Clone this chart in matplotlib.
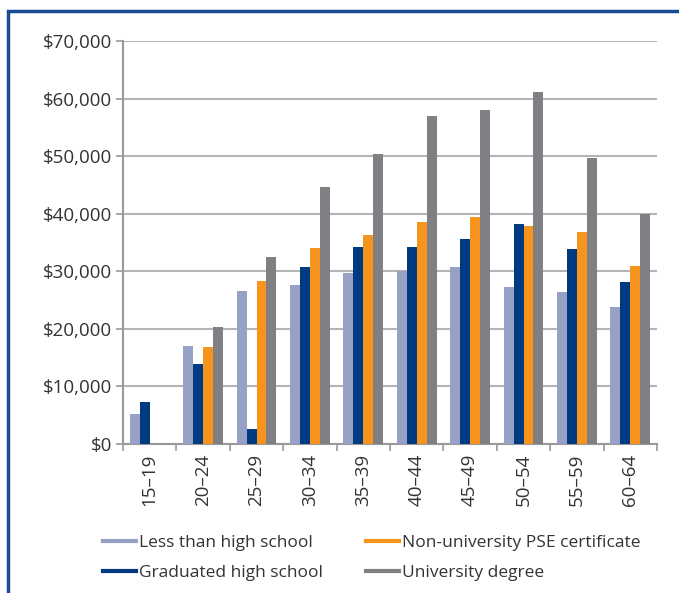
import matplotlib
matplotlib.use("Agg")
import matplotlib.pyplot as plt
from matplotlib.patches import Rectangle
from matplotlib.lines import Line2D
import numpy as np

age_groups = ["15–19", "20–24", "25–29", "30–34", "35–39", "40–44", "45–49", "50–54", "55–59", "60–64"]
less_than_hs = [5200, 17100, 26600, 27600, 29700, 30000, 30700, 27300, 26400, 23800]
graduated_hs = [7300, 13900, 2600, 30700, 34200, 34200, 35600, 38200, 33900, 28200]
non_univ_pse = [0, 16800, 28300, 34000, 36300, 38600, 39400, 37900, 36800, 30900]
univ_degree = [0, 20300, 32500, 44600, 50400, 57000, 58000, 61100, 49700, 40000]

series = [
    ("Less than high school", less_than_hs, "#97a0c5"),
    ("Graduated high school", graduated_hs, "#003a80"),
    ("Non-university PSE certificate", non_univ_pse, "#f7941d"),
    ("University degree", univ_degree, "#808084"),
]

plt.rcParams['font.family'] = ['Open Sans', 'DejaVu Sans']
txt_col = "#333333"

fig = plt.figure(figsize=(6.79, 5.93), dpi=100)
ax = fig.add_axes([123/679, 1-444/593, (657-123)/679, (444-41)/593])

x = np.arange(len(age_groups))
w = 0.187
for i, (name, vals, col) in enumerate(series):
    ax.bar(x + (i - 1.5) * w, vals, width=w, color=col, zorder=3, label=name)

ax.set_xlim(-0.5, len(age_groups) - 0.5)
ax.set_ylim(0, 70000)
ax.set_yticks(np.arange(0, 70001, 10000))
ax.set_yticklabels([f"${v:,.0f}" for v in np.arange(0, 70001, 10000)])
ax.yaxis.grid(True, color="#b4b4b4", linewidth=1.5, zorder=0)
ax.set_xticks(x)
ax.set_xticklabels(age_groups, rotation=90)
ax.set_xticks(np.arange(-0.5, len(age_groups), 1), minor=True)
ax.tick_params(axis='x', which='major', length=0, pad=7, labelsize=13.5, labelcolor=txt_col)
ax.tick_params(axis='x', which='minor', length=5, color="#999999", width=1.2)
ax.tick_params(axis='y', length=5, color="#999999", width=1.2, pad=3, labelsize=13.5, labelcolor=txt_col)
for s in ["top", "right"]:
    ax.spines[s].set_visible(False)
ax.spines["left"].set_color("#999999")
ax.spines["left"].set_linewidth(1.5)
ax.spines["bottom"].set_color("#999999")
ax.spines["bottom"].set_linewidth(1.5)

handles = [Line2D([0], [0], color=c, linewidth=3) for _, _, c in series]
labels = [n for n, _, _ in series]
leg_kw = dict(loc="center left", frameon=False, fontsize=12.5, handlelength=1.9,
              handletextpad=0.15, labelspacing=0.75, labelcolor=txt_col, borderpad=0, borderaxespad=0)
leg1 = fig.legend(handles[:2], labels[:2], bbox_to_anchor=(103/679, 1-558/593), **leg_kw)
leg2 = fig.legend(handles[2:], labels[2:], bbox_to_anchor=(366/679, 1-558/593), **leg_kw)

fig.patches.append(Rectangle((8/679, -0.1), 1.2, 1 - 11/593 + 0.1, transform=fig.transFigure,
                             fill=False, edgecolor="#1a4b94", linewidth=2.5, clip_on=False))

fig.savefig("out.png", dpi=100)
